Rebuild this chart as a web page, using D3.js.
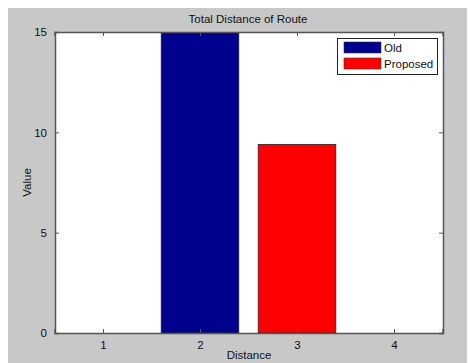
<!DOCTYPE html>
<html><head><meta charset="utf-8">
<script src="https://cdn.jsdelivr.net/npm/d3@7"></script>
<style>body{margin:0;background:#fff}svg{display:block}text{font-family:Arial,"Liberation Sans",sans-serif}</style>
</head><body>
<script>
const categories = [1, 2, 3, 4];
const seriesNames = ["Old", "Proposed"];
const oldValues = [0, 16, 0, 0];
const proposedValues = [0, 0, 9.4, 0];
const yTicks = [0, 5, 10, 15];
const colors = ["#00008f", "#ff0000"];

const W = 470, H = 363;
const FS = 11.5;
const svg = d3.select("body").append("svg").attr("width", W).attr("height", H);
svg.append("rect").attr("x", 8).attr("y", 8).attr("width", 459).attr("height", H - 8).attr("fill", "#c8c8c8");

const m = {left: 55, right: 443, top: 32, bottom: 333};
const x = d3.scaleLinear().domain([0.5, 4.5]).range([m.left - 0.5, m.right - 0.5]);
const y = d3.scaleLinear().domain([0, 15]).range([m.bottom, m.top]);
const bw = x(1.4) - x(0.6);

svg.append("rect").attr("x", m.left).attr("y", m.top).attr("width", m.right - m.left).attr("height", m.bottom - m.top).attr("fill", "#fff");

svg.append("clipPath").attr("id", "clip").append("rect")
  .attr("x", m.left).attr("y", m.top).attr("width", m.right - m.left).attr("height", m.bottom - m.top);

const g = svg.append("g").attr("clip-path", "url(#clip)");
[oldValues, proposedValues].forEach((vals, si) => {
  g.selectAll(null).data(categories.map((c, i) => ({c, v: vals[i]})).filter(d => d.v > 0))
    .enter().append("rect")
    .attr("x", d => x(d.c) - bw / 2)
    .attr("y", d => y(d.v))
    .attr("width", bw)
    .attr("height", d => y(0) - y(d.v))
    .attr("fill", colors[si])
    .attr("stroke", "#222").attr("stroke-width", 0.8);
});

const axColor = "#555";
const xAxis = svg.append("g").attr("transform", `translate(0,${m.bottom})`)
  .call(d3.axisBottom(x).tickValues(categories).tickSize(-4).tickPadding(8).tickFormat(d3.format("d")));
const xTop = svg.append("g").attr("transform", `translate(0,${m.top})`)
  .call(d3.axisTop(x).tickValues(categories).tickSize(-4).tickFormat(""));
const yAxis = svg.append("g").attr("transform", `translate(${m.left},0)`)
  .call(d3.axisLeft(y).tickValues(yTicks).tickSize(-4).tickPadding(8));
const yRight = svg.append("g").attr("transform", `translate(${m.right},0)`)
  .call(d3.axisRight(y).tickValues(yTicks).tickSize(-4).tickFormat(""));
[xAxis, xTop, yAxis, yRight].forEach(a => {
  a.select(".domain").attr("stroke", axColor).attr("stroke-width", 1.5);
  a.selectAll(".tick line").attr("stroke", axColor);
  a.selectAll("text").attr("font-size", FS).attr("fill", "#111").style("font-family", "Arial, 'Liberation Sans', sans-serif");
});

svg.append("text").attr("x", 248).attr("y", 23).attr("text-anchor", "middle").attr("font-size", FS).attr("fill", "#111").text("Total Distance of Route");
svg.append("text").attr("x", (m.left + m.right) / 2).attr("y", 359).attr("text-anchor", "middle").attr("font-size", FS).attr("fill", "#111").text("Distance");
svg.append("text").attr("transform", `translate(31,${(m.top + m.bottom) / 2}) rotate(-90)`).attr("text-anchor", "middle").attr("font-size", FS).attr("fill", "#111").text("Value");

const lg = svg.append("g");
lg.append("rect").attr("x", 337.5).attr("y", 38.5).attr("width", 100).attr("height", 36).attr("fill", "#fff").attr("stroke", "#222");
seriesNames.forEach((n, i) => {
  lg.append("rect").attr("x", 344).attr("y", 42 + i * 16).attr("width", 37).attr("height", 11).attr("fill", colors[i]).attr("stroke", "#333").attr("stroke-width", 0.6);
  lg.append("text").attr("x", 384).attr("y", 52 + i * 16).attr("font-size", FS).attr("fill", "#111").text(n);
});
</script>
</body></html>
